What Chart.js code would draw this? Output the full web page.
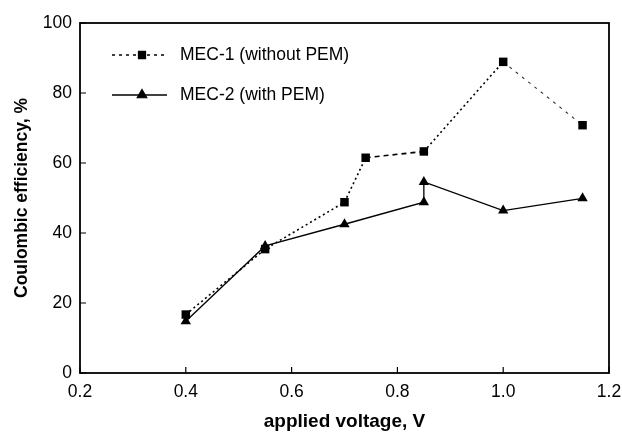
<!DOCTYPE html>
<html>
<head>
<meta charset="utf-8">
<script src="https://cdn.jsdelivr.net/npm/chart.js@4.4.0/dist/chart.umd.min.js"></script>
<style>
  html, body { margin: 0; padding: 0; background: #fff; }
  #wrap { width: 622px; height: 433px; }
</style>
</head>
<body>
<div id="wrap"><canvas id="chart"></canvas></div>
<script>
const mec1Voltage = [0.4, 0.55, 0.7, 0.74, 0.85, 1.0, 1.15];
const mec1Efficiency = [16.7, 35.4, 48.8, 61.5, 63.3, 88.9, 70.8];
const mec2Voltage = [0.4, 0.55, 0.7, 0.85, 0.85, 1.0, 1.15];
const mec2Efficiency = [14.8, 36.3, 42.5, 48.8, 54.6, 46.4, 49.9];
const xTicks = [0.2, 0.4, 0.6, 0.8, 1.0, 1.2];
const yTicks = [0, 20, 40, 60, 80, 100];
const seriesLabels = ["MEC-1 (without PEM)", "MEC-2 (with PEM)"];

const FONT = 'Arial, "Liberation Sans", sans-serif';
Chart.defaults.font.family = FONT;
Chart.defaults.color = "#000";

const toPoints = (xs, ys) => xs.map((x, i) => ({ x: x, y: ys[i] }));

// frame, inward tick marks and the in-plot legend
const framePlugin = {
  id: "frame",
  afterDraw(chart) {
    const ctx = chart.ctx;
    const a = chart.chartArea;
    const xs = chart.scales.x;
    const ys = chart.scales.y;
    ctx.save();
    ctx.strokeStyle = "#000";
    ctx.lineWidth = 1.8;
    ctx.strokeRect(a.left, a.top, a.right - a.left, a.bottom - a.top);
    ctx.lineWidth = 1.2;
    ctx.beginPath();
    xTicks.forEach(v => {
      const px = xs.getPixelForValue(v);
      ctx.moveTo(px, a.bottom);
      ctx.lineTo(px, a.bottom - 6);
    });
    yTicks.forEach(v => {
      const py = ys.getPixelForValue(v);
      ctx.moveTo(a.left, py);
      ctx.lineTo(a.left + 6, py);
    });
    ctx.stroke();

    // legend
    const lx = a.left + 32;
    const rows = [a.top + 32, a.top + 72];
    chart.data.datasets.forEach((ds, i) => {
      const y = rows[i];
      ctx.save();
      ctx.lineWidth = i === 0 ? 1.5 : 1.3;
      ctx.setLineDash(i === 0 ? [3, 4] : []);
      ctx.beginPath();
      ctx.moveTo(lx, y);
      ctx.lineTo(lx + 55, y);
      ctx.stroke();
      ctx.restore();
      Chart.helpers.drawPoint(ctx, {
        pointStyle: ds.pointStyle,
        radius: i === 0 ? 5 : 5.5,
        borderWidth: 1
      }, lx + 30, y);
      ctx.fillStyle = "#000";
      ctx.font = "17.5px " + FONT;
      ctx.textBaseline = "middle";
      ctx.fillText(ds.label, lx + 68, y);
    });
    ctx.restore();
  }
};

new Chart(document.getElementById("chart"), {
  type: "line",
  data: {
    datasets: [
      {
        label: seriesLabels[0],
        data: toPoints(mec1Voltage, mec1Efficiency),
        borderColor: "#000",
        backgroundColor: "#000",
        borderWidth: 1.6,
        borderDash: [2, 3],
        segment: {
          borderDash: c => c.p0DataIndex === 3 ? [5, 4] : c.p0DataIndex === 5 ? [3, 5] : [2, 3],
          borderWidth: c => c.p0DataIndex === 5 ? 1.1 : 1.6,
          borderColor: c => c.p0DataIndex === 5 ? "#333" : "#000"
        },
        pointStyle: "rect",
        pointRadius: 6,
        pointBorderWidth: 0,
        tension: 0
      },
      {
        label: seriesLabels[1],
        data: toPoints(mec2Voltage, mec2Efficiency),
        borderColor: "#000",
        backgroundColor: "#000",
        borderWidth: 1.3,
        pointStyle: "triangle",
        pointRadius: 6,
        pointBorderWidth: 0,
        tension: 0
      }
    ]
  },
  options: {
    responsive: true,
    maintainAspectRatio: false,
    animation: false,
    layout: { padding: { top: 23, right: 13, left: 0, bottom: 0 } },
    plugins: {
      legend: { display: false },
      tooltip: { enabled: false }
    },
    scales: {
      x: {
        type: "linear",
        min: 0.2,
        max: 1.2,
        afterBuildTicks: s => { s.ticks = xTicks.map(v => ({ value: v })); },
        afterFit: s => {
          s.height = 60;
          s.paddingLeft = 0;
          s.paddingRight = 0;
        },
        grid: { display: false, drawTicks: false },
        border: { display: false },
        ticks: {
          padding: 9,
          font: { size: 17.5 },
          callback: v => v.toFixed(1)
        },
        title: {
          display: true,
          text: "applied voltage, V",
          font: { size: 19, weight: "bold" },
          padding: { top: 0, bottom: 0 }
        }
      },
      y: {
        min: 0,
        max: 100,
        afterBuildTicks: s => { s.ticks = yTicks.map(v => ({ value: v })); },
        afterFit: s => {
          s.width = 80;
          s.paddingTop = 0;
          s.paddingBottom = 0;
        },
        grid: { display: false, drawTicks: false },
        border: { display: false },
        ticks: {
          padding: 8,
          font: { size: 17.5 },
          callback: v => String(v)
        },
        title: {
          display: true,
          text: "Coulombic efficiency, %",
          font: { size: 17.5, weight: "bold" },
          padding: { top: 12, bottom: 0 }
        }
      }
    }
  },
  plugins: [framePlugin]
});
</script>
</body>
</html>
